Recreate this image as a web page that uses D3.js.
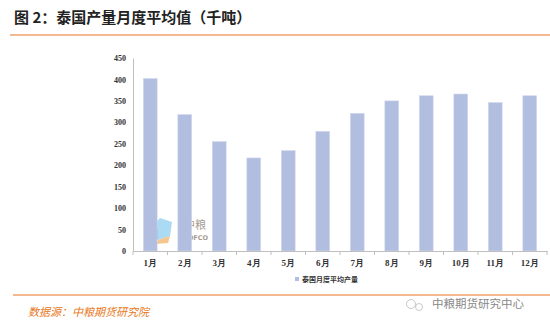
<!DOCTYPE html>
<html><head><meta charset="utf-8">
<script src="https://cdn.jsdelivr.net/npm/d3@7"></script>
<style>body{margin:0;background:#fff}</style>
</head><body>
<svg id="c" width="550" height="330"></svg>
<script>
const months = ["1月","2月","3月","4月","5月","6月","7月","8月","9月","10月","11月","12月"];
const production = [402, 318, 255, 217, 234, 279, 321, 350, 362, 366, 346, 362];
const yTicks = [0, 50, 100, 150, 200, 250, 300, 350, 400, 450];
const seriesName = "泰国月度平均产量";

const svg = d3.select("#c");
const orange = "#e87722";
const serif = "'Liberation Serif','DejaVu Serif',serif";
const cjk = "'Noto Sans CJK SC',sans-serif";

// title
svg.append("text").attr("x", 14).attr("y", 23)
  .attr("font-family", cjk).attr("font-size", 15).attr("font-weight", "bold").attr("fill", "#222")
  .text("图 2：泰国产量月度平均值（千吨）");
svg.append("line").attr("x1", 10).attr("x2", 550).attr("y1", 35).attr("y2", 35)
  .attr("stroke", orange).attr("stroke-width", 1.2);

const x = d3.scaleBand().domain(months).range([133, 547]).paddingInner(0.6).paddingOuter(0.3);
const xb = d3.scaleBand().domain(months).range([133, 547]);
const y = d3.scaleLinear().domain([0, 450]).range([251, 58]);

// faint watermark logo
const wm = svg.append("g").attr("opacity", 0.75);
wm.append("path").attr("d", "M152,226 L160,218 L172,222 L170,236 L158,240 L150,234 Z").attr("fill", "#8fcfee");
wm.append("path").attr("d", "M158,240 L170,236 L168,243 L156,244 Z").attr("fill", "#f3b46a");
wm.append("path").attr("d", "M152,226 L158,230 L158,240 L150,234 Z").attr("fill", "#6aa8d8");
wm.append("text").attr("x", 184).attr("y", 229).attr("font-family", cjk).attr("font-size", 11).attr("fill", "#8a7b70").text("中粮");
wm.append("text").attr("x", 183).attr("y", 240).attr("font-family", "'DejaVu Sans',sans-serif").attr("font-size", 6.5).attr("font-weight", "bold").attr("fill", "#8a7b70").text("COFCO");

// y axis
const ya = svg.append("g").attr("transform", "translate(133,0)")
  .call(d3.axisLeft(y).tickValues(yTicks).tickSize(0).tickPadding(7));
ya.select(".domain").attr("stroke", "#bfbfbf");
ya.selectAll("text").attr("font-family", serif).attr("font-size", 8).attr("font-weight", "bold").attr("fill", "#333");

// bars
svg.append("g").selectAll("rect").data(production).join("rect")
  .attr("x", (d, i) => x(months[i]))
  .attr("width", x.bandwidth())
  .attr("y", d => y(d))
  .attr("height", d => y(0) - y(d))
  .attr("fill", "#b2bee0").attr("stroke", "#d0d8ef").attr("stroke-width", 0.6);

// x axis
const xa = svg.append("g").attr("transform", "translate(0,251)")
  .call(d3.axisBottom(xb).tickSize(0).tickPadding(9));
xa.select(".domain").attr("stroke", "#bfbfbf");
xa.selectAll("text").attr("font-family", serif).attr("font-size", 9).attr("font-weight", "bold").attr("fill", "#333");
svg.append("g").selectAll("line").data(months.concat(["end"])).join("line")
  .attr("x1", (d, i) => 133 + i * xb.step()).attr("x2", (d, i) => 133 + i * xb.step())
  .attr("y1", 251).attr("y2", 255).attr("stroke", "#bfbfbf");

// legend
svg.append("rect").attr("x", 295).attr("y", 277).attr("width", 4).attr("height", 4).attr("fill", "#b2bee0");
svg.append("text").attr("x", 302).attr("y", 282)
  .attr("font-family", cjk).attr("font-size", 7).attr("font-weight", "bold").attr("fill", "#333")
  .text(seriesName);

// bottom rule and source
svg.append("line").attr("x1", 13).attr("x2", 550).attr("y1", 295).attr("y2", 295)
  .attr("stroke", orange).attr("stroke-width", 1.2);
svg.append("text").attr("x", 28).attr("y", 316)
  .attr("font-family", cjk).attr("font-size", 11).attr("font-style", "italic").attr("fill", orange)
  .text("数据源：中粮期货研究院");
svg.append("text").attr("x", 432).attr("y", 308)
  .attr("font-family", cjk).attr("font-size", 11.5).attr("fill", "#888")
  .text("中粮期货研究中心");
svg.append("circle").attr("cx", 411).attr("cy", 304).attr("r", 4.5).attr("fill", "none").attr("stroke", "#bbb").attr("stroke-width", 0.8);
svg.append("circle").attr("cx", 419).attr("cy", 307).attr("r", 3.5).attr("fill", "none").attr("stroke", "#bbb").attr("stroke-width", 0.8);
</script>
</body></html>
